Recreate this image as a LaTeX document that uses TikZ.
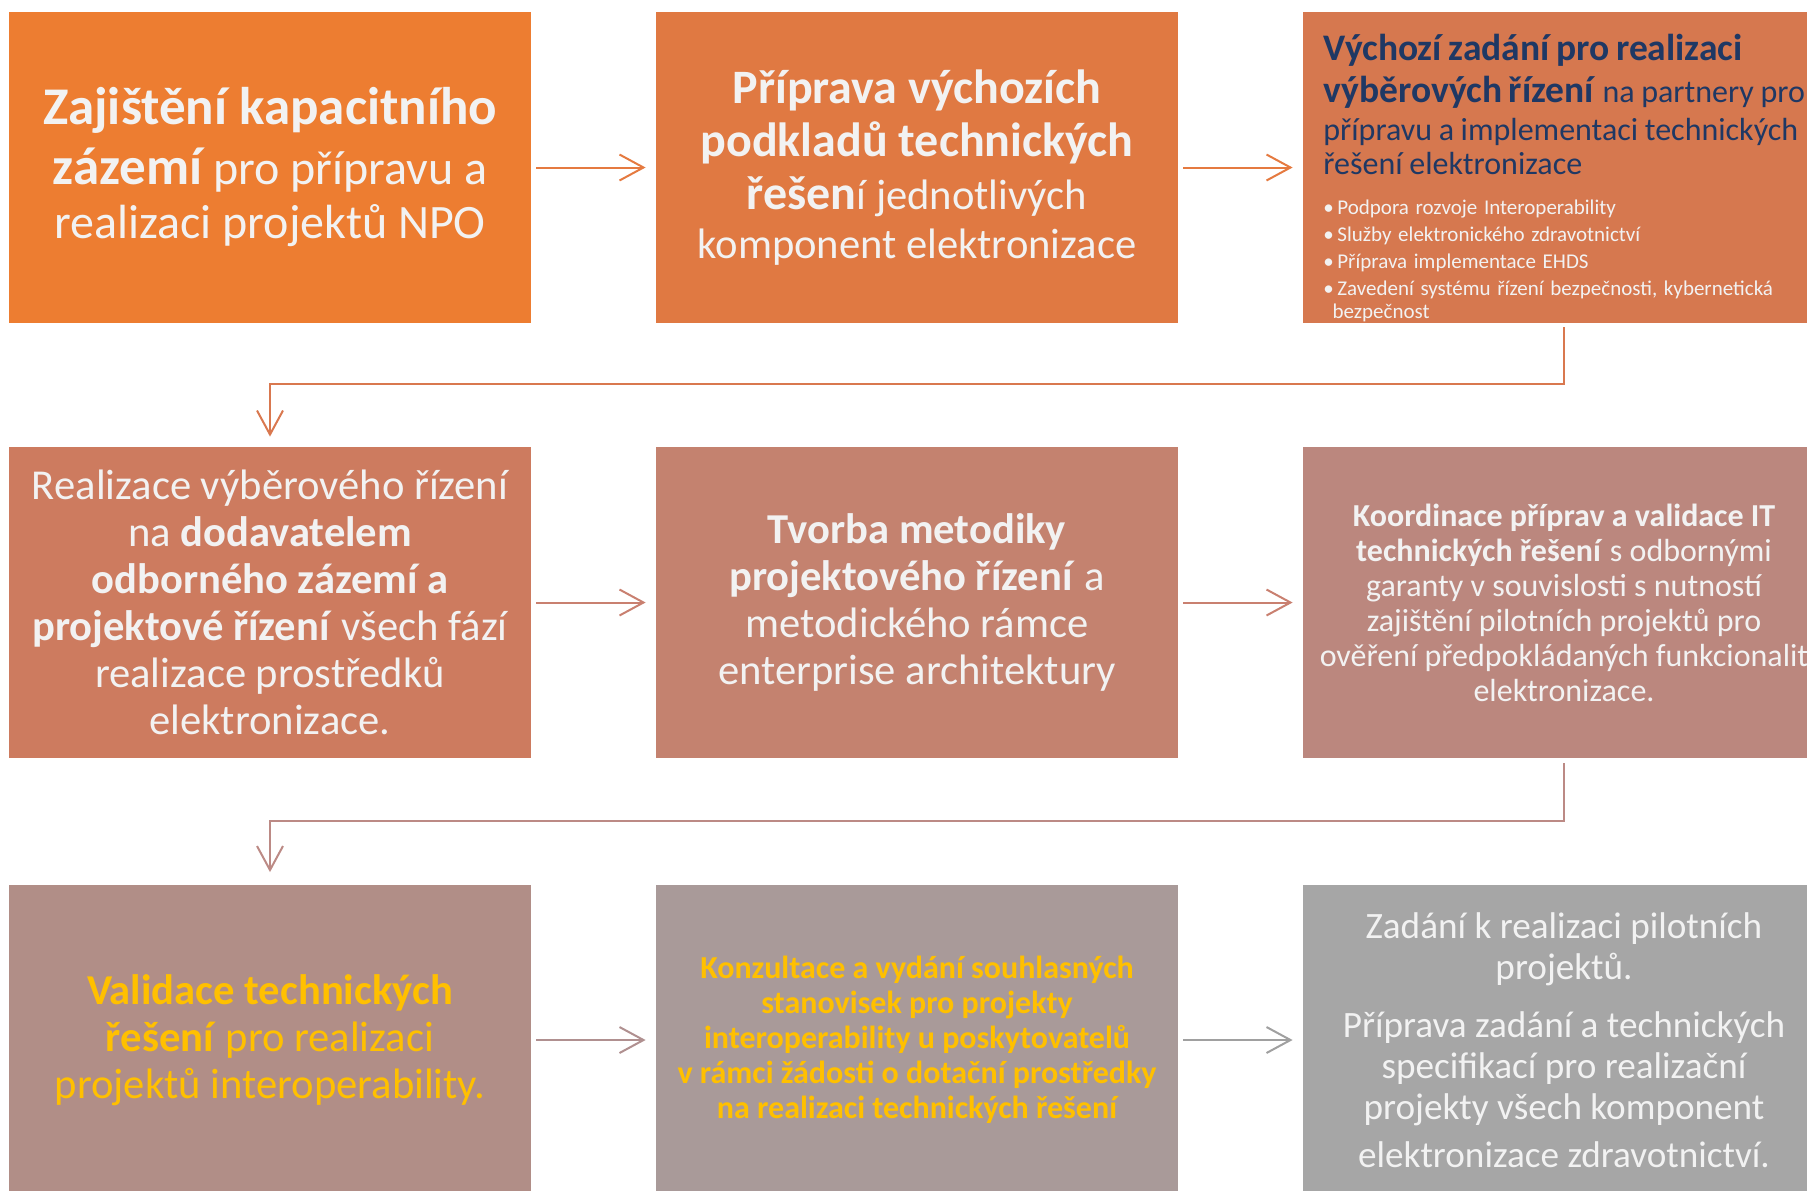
\documentclass[tikz,border=0pt]{standalone}
\usepackage{fontspec}
\setmainfont{Carlito}
\usetikzlibrary{arrows.meta,calc}
\definecolor{cA}{HTML}{ED7D31}
\definecolor{cB}{HTML}{E07942}
\definecolor{cC}{HTML}{D6784F}
\definecolor{cD}{HTML}{CD7B5F}
\definecolor{cE}{HTML}{C4826F}
\definecolor{cF}{HTML}{BB877E}
\definecolor{cG}{HTML}{B18E87}
\definecolor{cH}{HTML}{A99A99}
\definecolor{cI}{HTML}{A6A6A6}
\definecolor{aA}{HTML}{E57A40}
\definecolor{aB}{HTML}{D9784F}
\definecolor{aC}{HTML}{C98070}
\definecolor{aD}{HTML}{BC8A85}
\definecolor{aE}{HTML}{B09090}
\definecolor{aF}{HTML}{A0A0A0}
\definecolor{txt}{HTML}{F2F2F2}
\definecolor{navy}{HTML}{1F3864}
\definecolor{gold}{HTML}{FFC000}
\newcommand\bigbA[1]{{\fontsize{26.5}{27}\selectfont\bfseries #1}}
\newcommand\bigbB[1]{{\fontsize{24}{24.2}\selectfont\bfseries #1}}
\begin{document}
\begin{tikzpicture}[x=0.5pt,y=-0.5pt,
  box/.style={rectangle, minimum width=261pt, minimum height=155.5pt, inner sep=0pt, align=center, text=txt},
  flow/.style={-{Straight Barb[length=12pt,width=13pt]}, line width=1pt},
]
\useasboundingbox (0,0) rectangle (1807,1190);
% row 1
\node[box, fill=cA, font=\fontsize{24}{27}\selectfont] (b1) at (270,167.5)
  {\bigbA{Zajištění kapacitního}\\[3pt] \bigbA{zázemí} pro přípravu a\\ realizaci projektů NPO};
\node[box, fill=cB, font=\fontsize{21.3}{24.2}\selectfont] (b2) at (917,167.5)
  {\bigbB{Příprava výchozích}\\[2.3pt] \bigbB{podkladů technických}\\[2.3pt] \bigbB{řešen}í jednotlivých\\ komponent elektronizace};
\node[box, fill=cC] (b3) at (1564,167.5) {};
\node[anchor=north west, text width=330pt, align=left, inner sep=0pt, text=navy] (t3) at (1323,34) {%
  \fontsize{18.75}{20.7}\selectfont\textbf{Výchozí zadání pro realizaci}\par
  \textbf{výběrových řízení} {\fontsize{16}{20.7}\selectfont na partnery pro}\par
  \fontsize{16}{19}\selectfont přípravu a implementaci technických\par
  \fontsize{16}{17.3}\selectfont řešení elektronizace\par
  \vspace{6.5pt}
  \color{txt}\fontsize{10.5}{13.5}\selectfont
  \textbullet\,Podpora rozvoje Interoperability\par
  \textbullet\,Služby elektronického zdravotnictví\par
  \textbullet\,Příprava implementace EHDS\par
  \textbullet\,Zavedení systému řízení bezpečnosti, kybernetická\par
  \fontsize{10.5}{11.5}\selectfont\hspace*{4.6pt}bezpečnost\par};
% row 2
\node[box, fill=cD, font=\fontsize{21.3}{23.5}\selectfont] (b4) at (270,602.5)
  {Realizace výběrového řízení\\ na \textbf{dodavatelem}\\ \textbf{odborného zázemí a}\\ \textbf{projektové řízení} všech fází\\ realizace prostředků\\ elektronizace.};
\node[box, fill=cE, font=\fontsize{21.3}{23.5}\selectfont] (b5) at (917,602.5)
  {\textbf{Tvorba metodiky}\\ \textbf{projektového řízení} a\\ metodického rámce\\ enterprise architektury};
\node[box, fill=cF, font=\fontsize{16}{17.5}\selectfont] (b6) at (1564,602.5)
  {\textbf{Koordinace příprav a validace IT}\\ \textbf{technických řešení} s odbornými\\ garanty v souvislosti s nutností\\ zajištění pilotních projektů pro\\ ověření předpokládaných funkcionalit\\ elektronizace.};
% row 3
\node[box, fill=cG, text=gold, font=\fontsize{21.3}{23.5}\selectfont] (b7) at (270,1040)
  {\textbf{Validace technických}\\ \textbf{řešení} pro realizaci\\ projektů interoperability.};
\node[box, fill=cH, text=gold, font=\bfseries\fontsize{16}{17.5}\selectfont] (b8) at (917,1040)
  {Konzultace a vydání souhlasných\\ stanovisek pro projekty\\ interoperability u poskytovatelů\\ v rámci žádosti o dotační prostředky\\ na realizaci technických řešení};
\node[box, fill=cI, font=\fontsize{18.6}{20.5}\selectfont] (b9) at (1564,1040)
  {Zadání k realizaci pilotních\\ projektů.\\[8.5pt] Příprava zadání a technických\\ specifikací pro realizační\\ projekty všech komponent\\[3.5pt] elektronizace zdravotnictví.};
% connectors
\draw[flow, draw=aA] ([xshift=2.5pt]b1.east) -- ([xshift=-5pt]b2.west);
\draw[flow, draw=aA] ([xshift=2.5pt]b2.east) -- ([xshift=-5pt]b3.west);
\draw[flow, draw=aB] ([yshift=-2pt]b3.south) -- ++(0,57) -| ([yshift=5pt]b4.north);
\draw[flow, draw=aC] ([xshift=2.5pt]b4.east) -- ([xshift=-5pt]b5.west);
\draw[flow, draw=aC] ([xshift=2.5pt]b5.east) -- ([xshift=-5pt]b6.west);
\draw[flow, draw=aD] ([yshift=-2.5pt]b6.south) -- ++(0,58) -| ([yshift=6pt]b7.north);
\draw[flow, draw=aE] ([xshift=2.5pt]b7.east) -- ([xshift=-5pt]b8.west);
\draw[flow, draw=aF] ([xshift=2.5pt]b8.east) -- ([xshift=-5pt]b9.west);
\end{tikzpicture}
\end{document}
